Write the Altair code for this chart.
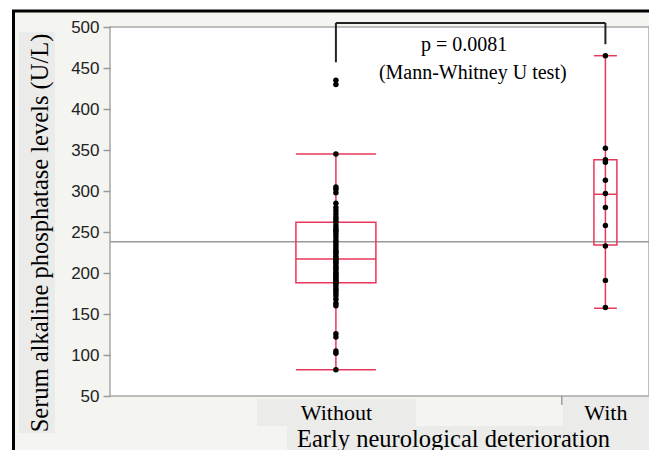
import altair as alt
import pandas as pd

# ---------------- data ----------------
groups = ["Without", "With"]
without_vals = [435, 430, 345, 305, 302, 298, 285, 280, 276, 272, 268, 265, 262,
                258, 255, 252, 250, 247, 244, 240, 237, 234, 231, 228, 226, 224,
                221, 219, 217, 215, 213, 211, 208, 206, 204, 201, 199, 197, 195,
                193, 191, 189, 188, 186, 183, 180, 178, 175, 172, 168, 163, 160,
                126, 122, 105, 102, 82]
with_vals = [465, 352, 338, 335, 313, 297, 280, 258, 233, 191, 158]

# box-plot statistics as drawn (JMP quantiles)
q1 = [188, 234]
median = [217, 296]
q3 = [262, 338]
whisk_lo = [82, 157]
whisk_hi = [345, 465]
grand_mean = [238]

y_ticks = [50, 100, 150, 200, 250, 300, 350, 400, 450, 500]
bracket_levels = {"top": 505, "left_end": 457, "right_end": 479}
annot_text = ["p = 0.0081", "(Mann-Whitney U test)"]
annot_x = [0.657, 0.673]
annot_y = [478, 444]

# ---------------- layout / style ----------------
W, H = 539, 369
PAD_B = 54
RED = "#e8375a"
BG = "#f4f4f0"
BOX = "#ebebea"
box_half = [0.0742, 0.0213]

n = [len(without_vals), len(with_vals)]
total = sum(n)
centers = [n[0] / 2 / total, (n[0] + n[1] / 2) / total]
separator = n[0] / total

pts = pd.DataFrame({
    "group": ["Without"] * n[0] + ["With"] * n[1],
    "x": [centers[0]] * n[0] + [centers[1]] * n[1],
    "v": without_vals + with_vals,
})
box = pd.DataFrame({
    "group": groups, "x": centers,
    "xlo": [c - h for c, h in zip(centers, box_half)],
    "xhi": [c + h for c, h in zip(centers, box_half)],
    "q1": q1, "med": median, "q3": q3, "lo": whisk_lo, "hi": whisk_hi,
})
mean_df = pd.DataFrame({"v": grand_mean})
bracket = pd.DataFrame({
    "x": [centers[0], centers[0], centers[1]],
    "x2": [centers[1], centers[0], centers[1]],
    "v": [bracket_levels["top"], bracket_levels["left_end"], bracket_levels["right_end"]],
    "v2": [bracket_levels["top"], bracket_levels["top"], bracket_levels["top"]],
})
annot = pd.DataFrame({"t": annot_text, "x": annot_x, "v": annot_y})
sep_df = pd.DataFrame({"x": [separator]})
one = pd.DataFrame({"a": [0]})

xscale = alt.Scale(domain=[0, 1], nice=False, zero=False)
yscale = alt.Scale(domain=[50, 500], nice=False, zero=False)

label_expr = f"datum.value < {separator} ? 'Without' : 'With'"
X = lambda f: alt.X(f, type="quantitative", scale=xscale, axis=alt.Axis(
    values=centers, labelExpr=label_expr, ticks=False, tickSize=0, domain=False,
    grid=False, labelFont="Liberation Serif", labelFontSize=22, labelColor="black",
    labelBaseline="alphabetic", labelPadding=23, labelFlush=False,
    title="Early neurological deterioration", titleFont="Liberation Serif",
    titleFontSize=24.5, titleFontWeight="normal", titleColor="black",
    titleX=343, titleY=50, titleAlign="center", titleBaseline="alphabetic",
    zindex=1))
Y = lambda f: alt.Y(f, type="quantitative", scale=yscale, axis=alt.Axis(
    values=y_ticks, grid=False, domain=False, tickColor="#9a9a9a", tickSize=7,
    tickWidth=1.5, labelFont="Liberation Sans", labelFontSize=17, labelColor="#222",
    labelPadding=4,
    title="Serum alkaline phosphatase levels (U/L)", titleFont="Liberation Serif",
    titleFontSize=24.5, titleFontWeight="normal", titleColor="black",
    titleX=-63, titleY=205.5, titleAlign="center", titleBaseline="alphabetic",
    titleAngle=-90, zindex=1))

# decorative panels (kept inside the svg)
bg = alt.Chart(one).mark_rect(fill=BG).encode(
    x=alt.value(-96.5), x2=alt.value(W), y=alt.value(-15.5), y2=alt.value(H + PAD_B))
frame_left = alt.Chart(one).mark_rule(color="black", strokeWidth=3).encode(
    x=alt.value(-96.5), y=alt.value(-17), y2=alt.value(H + PAD_B))
frame_top = alt.Chart(one).mark_rule(color="black", strokeWidth=3).encode(
    y=alt.value(-16), x=alt.value(-98), x2=alt.value(W))
ytitle_box = alt.Chart(one).mark_rect(fill=BOX).encode(
    x=alt.value(-91), x2=alt.value(-55), y=alt.value(5), y2=alt.value(406))
lab_box1 = alt.Chart(one).mark_rect(fill=BOX).encode(
    x=alt.value(147), x2=alt.value(306), y=alt.value(H + 3), y2=alt.value(H + 30))
lab_box2 = alt.Chart(one).mark_rect(fill=BOX).encode(
    x=alt.value(453), x2=alt.value(W), y=alt.value(H + 1), y2=alt.value(H + 30))
lab_box3 = alt.Chart(one).mark_rect(fill=BOX).encode(
    x=alt.value(177), x2=alt.value(W), y=alt.value(H + 30), y2=alt.value(H + PAD_B))
plot_bg = alt.Chart(one).mark_rect(fill="white", stroke="#a8a8a8", strokeWidth=1.5).encode(
    x=alt.value(0), x2=alt.value(W), y=alt.value(0), y2=alt.value(H))

sep_tick = alt.Chart(sep_df).mark_rule(color="#9a9a9a", strokeWidth=1.5).encode(
    x=X("x"), y=alt.value(H), y2=alt.value(H + 9))

mean_line = alt.Chart(mean_df).mark_rule(color="#9a9a9a", strokeWidth=1.5).encode(
    y=Y("v"), x=alt.value(0), x2=alt.value(W))

whisker = alt.Chart(box).mark_rule(color=RED, strokeWidth=1.5).encode(
    x=X("x"), y=Y("lo"), y2="hi")
box_rect = alt.Chart(box).mark_rect(fill="white", fillOpacity=0, stroke=RED,
                                    strokeWidth=1.5).encode(
    x=X("xlo"), x2="xhi", y=Y("q1"), y2="q3")
med_rule = alt.Chart(box).mark_rule(color=RED, strokeWidth=1.5).encode(
    x=X("xlo"), x2="xhi", y=Y("med"))
cap_lo = alt.Chart(box).mark_rule(color=RED, strokeWidth=1.5).encode(
    x=X("xlo"), x2="xhi", y=Y("lo"))
cap_hi = alt.Chart(box).mark_rule(color=RED, strokeWidth=1.5).encode(
    x=X("xlo"), x2="xhi", y=Y("hi"))

points = alt.Chart(pts).mark_circle(color="black", opacity=1, size=30).encode(
    x=X("x"), y=Y("v"))

brk = alt.Chart(bracket).mark_rule(color="#222", strokeWidth=2).encode(
    x=X("x"), x2="x2", y=Y("v"), y2="v2")

texts = alt.Chart(annot).mark_text(font="Liberation Serif", fontSize=20,
                                   color="black", baseline="middle",
                                   align="center").encode(
    x=X("x"), y=Y("v"), text="t:N")

chart = alt.layer(
    bg, frame_left, frame_top, ytitle_box, lab_box1, lab_box2, lab_box3, plot_bg,
    sep_tick, mean_line, whisker, box_rect, med_rule, cap_lo, cap_hi, points, brk,
    texts
).properties(
    width=W, height=H,
    autosize=alt.AutoSizeParams(type="none"),
    padding={"left": 102, "top": 19, "right": 0, "bottom": PAD_B},
    background="white",
).configure_view(stroke=None)

chart.save("out.html", embed_options={"renderer": "svg", "actions": False})
